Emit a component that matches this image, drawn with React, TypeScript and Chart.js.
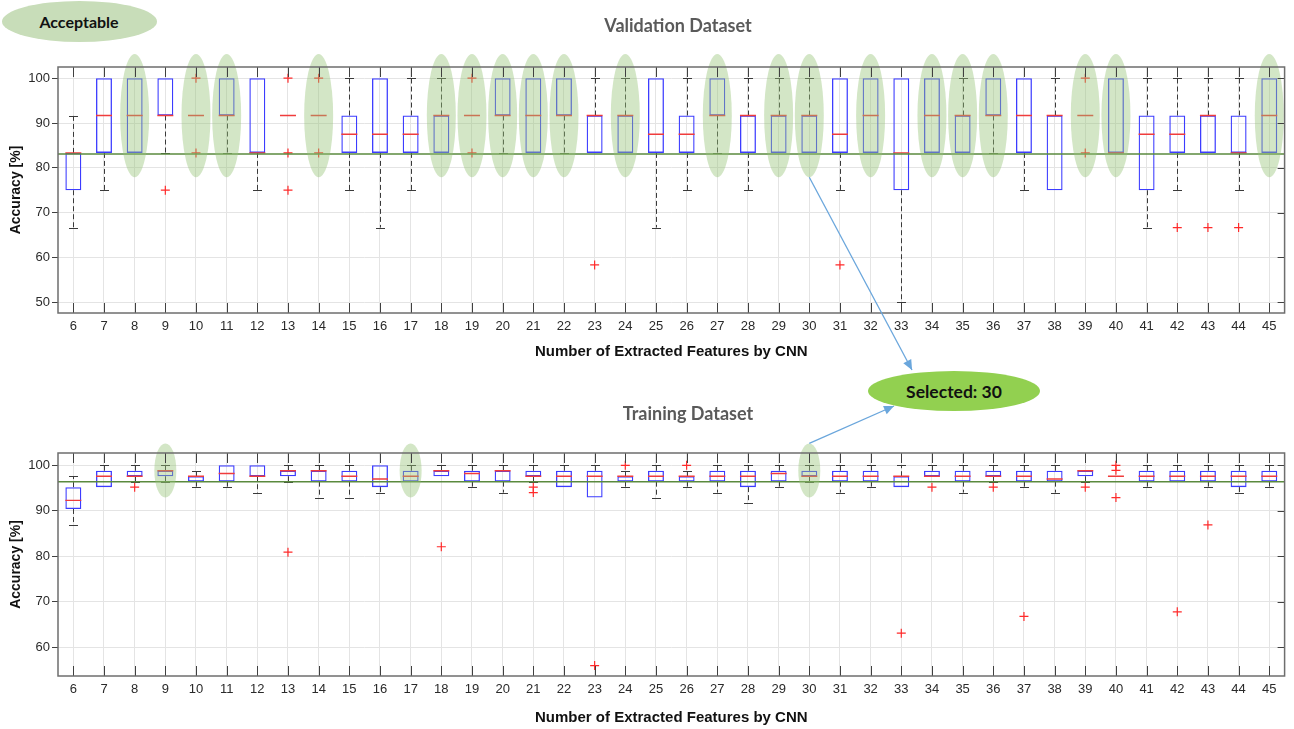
import React, { useEffect, useRef } from 'react';
import { Chart, registerables } from 'chart.js';

Chart.register(...registerables);

// ---------- categories ----------
const features = ['6','7','8','9','10','11','12','13','14','15','16','17','18','19','20','21','22','23','24','25','26','27','28','29','30','31','32','33','34','35','36','37','38','39','40','41','42','43','44','45'];

// ---------- validation dataset (top panel) ----------
const valQ1 =     [75, 83.33, 83.33, 91.67, 91.67, 91.67, 83.33, 91.67, 91.67, 83.33, 83.33, 83.33, 83.33, 91.67, 91.67, 83.33, 91.67, 83.33, 83.33, 83.33, 83.33, 91.67, 83.33, 83.33, 83.33, 83.33, 83.33, 75, 83.33, 83.33, 91.67, 83.33, 75, 91.67, 83.33, 75, 83.33, 83.33, 83.33, 83.33];
const valMedian = [83.33, 91.67, 91.67, 91.67, 91.67, 91.67, 83.33, 91.67, 91.67, 87.5, 87.5, 87.5, 91.67, 91.67, 91.67, 91.67, 91.67, 91.67, 91.67, 87.5, 87.5, 91.67, 91.67, 91.67, 91.67, 87.5, 91.67, 83.33, 91.67, 91.67, 91.67, 91.67, 91.67, 91.67, 83.33, 87.5, 87.5, 91.67, 83.33, 91.67];
const valQ3 =     [83.33, 100, 100, 100, 91.67, 100, 100, 91.67, 91.67, 91.67, 100, 91.67, 91.67, 91.67, 100, 100, 100, 91.67, 91.67, 100, 91.67, 100, 91.67, 91.67, 91.67, 100, 100, 100, 100, 91.67, 100, 100, 91.67, 91.67, 100, 91.67, 91.67, 91.67, 91.67, 100];
const valLow =    [66.67, 75, 83.33, 83.33, 91.67, 83.33, 75, 91.67, 91.67, 75, 66.67, 75, 83.33, 91.67, 83.33, 83.33, 83.33, 83.33, 83.33, 66.67, 75, 83.33, 75, 83.33, 83.33, 75, 83.33, 50, 83.33, 83.33, 83.33, 75, 75, 91.67, 83.33, 66.67, 75, 83.33, 75, 83.33];
const valHigh =   [91.67, 100, 100, 100, 91.67, 100, 100, 91.67, 91.67, 100, 100, 100, 100, 91.67, 100, 100, 100, 100, 100, 100, 100, 100, 100, 100, 100, 100, 100, 100, 100, 100, 100, 100, 100, 91.67, 100, 100, 100, 100, 100, 100];
const valOutliers = [
  { x: '9', y: 75 },
  { x: '10', y: 100 }, { x: '10', y: 83.33 },
  { x: '13', y: 100 }, { x: '13', y: 83.33 }, { x: '13', y: 75 },
  { x: '14', y: 100 }, { x: '14', y: 83.33 },
  { x: '19', y: 100 }, { x: '19', y: 83.33 },
  { x: '23', y: 58.33 },
  { x: '31', y: 58.33 },
  { x: '39', y: 100 }, { x: '39', y: 83.33 },
  { x: '42', y: 66.67 }, { x: '43', y: 66.67 }, { x: '44', y: 66.67 },
];
const valTicks = [50, 60, 70, 80, 90, 100];
const valAcceptable = ['8','10','11','14','18','19','20','21','22','24','27','29','30','32','34','35','36','39','40','45'];
const valThreshold = 83.1;

// ---------- training dataset (bottom panel) ----------
const trQ1 =     [90.4, 95.2, 97.6, 97.6, 96.4, 96.4, 97.6, 97.6, 96.4, 96.4, 95.2, 96.4, 97.6, 96.4, 96.4, 97.6, 95.2, 92.9, 96.4, 96.4, 96.4, 96.4, 95.2, 96.4, 97.6, 96.4, 96.4, 95.2, 97.6, 96.4, 97.6, 96.4, 96.4, 97.6, 97.6, 96.4, 96.4, 96.4, 95.2, 96.4];
const trMedian = [92.3, 97.6, 97.6, 98.8, 97.6, 98.2, 97.6, 98.8, 98.8, 97.6, 97.0, 97.6, 98.8, 98.2, 98.8, 97.6, 97.6, 97.6, 97.6, 97.6, 97.6, 97.6, 97.6, 98.2, 97.6, 97.6, 97.6, 97.6, 97.6, 97.6, 97.6, 97.6, 97.0, 98.8, 97.6, 97.6, 97.6, 97.6, 97.6, 97.6];
const trQ3 =     [95.2, 98.8, 98.8, 98.8, 97.6, 100, 100, 98.8, 98.8, 98.8, 100, 98.8, 98.8, 98.8, 98.8, 98.8, 98.8, 98.8, 97.6, 98.8, 97.6, 98.8, 98.8, 98.8, 98.8, 98.8, 98.8, 97.6, 98.8, 98.8, 98.8, 98.8, 98.8, 98.8, 97.6, 98.8, 98.8, 98.8, 98.8, 98.8];
const trLow =    [86.9, 95.2, 96.4, 96.4, 95.2, 95.2, 94.0, 96.4, 92.9, 92.9, 94.0, 96.4, 97.6, 95.2, 94.0, 96.4, 95.2, 92.9, 95.2, 92.9, 95.2, 94.0, 91.7, 95.2, 96.4, 94.0, 95.2, 95.2, 97.6, 94.0, 96.4, 95.2, 94.0, 96.4, 97.6, 95.2, 96.4, 95.2, 94.0, 95.2];
const trHigh =   [97.6, 100, 100, 100, 98.8, 100, 100, 100, 100, 100, 100, 100, 100, 100, 100, 100, 100, 100, 98.8, 100, 98.8, 100, 100, 100, 100, 100, 100, 100, 100, 100, 100, 100, 100, 98.8, 97.6, 100, 100, 100, 100, 100];
const trOutliers = [
  { x: '8', y: 95.2 },
  { x: '13', y: 80.9 },
  { x: '18', y: 82.1 },
  { x: '21', y: 95.2 }, { x: '21', y: 94.0 },
  { x: '23', y: 56.0 },
  { x: '24', y: 100 },
  { x: '26', y: 100 },
  { x: '33', y: 63.1 },
  { x: '34', y: 95.2 },
  { x: '36', y: 95.2 },
  { x: '37', y: 66.8 },
  { x: '39', y: 95.2 },
  { x: '40', y: 100 }, { x: '40', y: 98.9 }, { x: '40', y: 92.9 },
  { x: '42', y: 67.8 },
  { x: '43', y: 86.9 },
];
const trTicks = [60, 70, 80, 90, 100];
const trAcceptable = ['9', '17', '30'];
const trThreshold = 96.4;

const selectedFeature = '30';

// ---------- styling ----------
const TICK_FONT = "'Liberation Sans', Arial, sans-serif";
const BOX_BLUE = '#3c3cff';
const MED_RED = '#f03c3c';
const OUT_RED = '#ff2a2a';
const WHISKER = '#3a3a3a';
const AXIS_DARK = '#404040';
const GRID = '#e4e4e4';
const HILITE = 'rgba(150, 196, 120, 0.42)';
const THRESH = '#5a8a3e';

type Panel = {
  q1: number[]; med: number[]; q3: number[]; lo: number[]; hi: number[];
  outliers: { x: string; y: number }[];
  ticks: number[]; min: number; max: number;
  acceptable: string[]; threshold: number;
  ellLo: number; ellHi: number; ellRx: number;
  padTop: number; axisH: number; titlePadBottom: number;
};

function extrasPlugin(p: Panel) {
  return {
    id: 'boxExtras',
    beforeDatasetsDraw(chart: any) {
      const { ctx, scales } = chart;
      const x = scales.x, y = scales.y;
      ctx.save();
      ctx.strokeStyle = WHISKER;
      ctx.lineWidth = 1;
      features.forEach((_f, i) => {
        const px = Math.round(x.getPixelForValue(i)) + 0.5;
        const segs: [number, number][] = [];
        if (p.hi[i] > p.q3[i]) segs.push([p.q3[i], p.hi[i]]);
        if (p.lo[i] < p.q1[i]) segs.push([p.q1[i], p.lo[i]]);
        segs.forEach(([a, b]) => {
          ctx.setLineDash([5, 3]);
          ctx.beginPath();
          ctx.moveTo(px, y.getPixelForValue(a));
          ctx.lineTo(px, y.getPixelForValue(b));
          ctx.stroke();
          ctx.setLineDash([]);
          const cy = Math.round(y.getPixelForValue(b)) + 0.5;
          ctx.beginPath();
          ctx.moveTo(px - 4.5, cy);
          ctx.lineTo(px + 4.5, cy);
          ctx.stroke();
        });
      });
      ctx.restore();
    },
    afterDatasetsDraw(chart: any) {
      const { ctx, scales, chartArea } = chart;
      const x = scales.x, y = scales.y;
      ctx.save();
      const ty = y.getPixelForValue(p.threshold);
      ctx.strokeStyle = THRESH;
      ctx.lineWidth = 1.5;
      ctx.beginPath();
      ctx.moveTo(chartArea.left, ty);
      ctx.lineTo(chartArea.right, ty);
      ctx.stroke();
      ctx.fillStyle = HILITE;
      p.acceptable.forEach((f) => {
        const i = features.indexOf(f);
        const cx = x.getPixelForValue(i);
        const yTop = y.getPixelForValue(p.ellHi);
        const yBot = y.getPixelForValue(p.ellLo);
        ctx.beginPath();
        ctx.ellipse(cx, (yTop + yBot) / 2, p.ellRx, (yBot - yTop) / 2, 0, 0, Math.PI * 2);
        ctx.fill();
      });
      ctx.restore();
    },
    afterDraw(chart: any) {
      const { ctx, scales, chartArea } = chart;
      const x = scales.x, y = scales.y;
      ctx.save();
      ctx.strokeStyle = AXIS_DARK;
      ctx.lineWidth = 1;
      features.forEach((_f, i) => {
        const px = Math.round(x.getPixelForValue(i)) + 0.5;
        ctx.beginPath();
        ctx.moveTo(px, chartArea.bottom);
        ctx.lineTo(px, chartArea.bottom - 10);
        ctx.moveTo(px, chartArea.top);
        ctx.lineTo(px, chartArea.top + 10);
        ctx.stroke();
      });
      p.ticks.forEach((v) => {
        const py = Math.round(y.getPixelForValue(v)) + 0.5;
        ctx.beginPath();
        ctx.moveTo(chartArea.right, py);
        ctx.lineTo(chartArea.right - 7, py);
        ctx.stroke();
      });
      ctx.strokeStyle = '#6e6e6e';
      ctx.lineWidth = 1.5;
      ctx.strokeRect(chartArea.left, chartArea.top, chartArea.right - chartArea.left, chartArea.bottom - chartArea.top);
      ctx.restore();
    },
  };
}

function makeConfig(p: Panel): any {
  return {
    type: 'bar',
    data: {
      labels: features,
      datasets: [
        {
          type: 'bar',
          data: p.q1.map((v, i) => (p.q3[i] > v ? [v, p.q3[i]] : null)),
          backgroundColor: 'rgba(0,0,0,0)',
          borderColor: BOX_BLUE,
          borderWidth: 1.3,
          borderSkipped: false,
          barPercentage: 0.52,
          categoryPercentage: 1,
          order: 3,
        },
        {
          type: 'line',
          data: p.med,
          showLine: false,
          pointStyle: 'line',
          pointRadius: 8,
          pointBorderColor: MED_RED,
          pointBorderWidth: 1.4,
          borderColor: MED_RED,
          order: 2,
        },
        {
          type: 'line',
          data: p.outliers,
          showLine: false,
          pointStyle: 'cross',
          pointRadius: 4.5,
          pointBorderColor: OUT_RED,
          pointBorderWidth: 1.2,
          borderColor: OUT_RED,
          order: 1,
        },
      ],
    },
    options: {
      animation: false,
      responsive: false,
      maintainAspectRatio: false,
      events: [],
      layout: { padding: { top: p.padTop, right: 4, left: 0, bottom: 0 } },
      plugins: { legend: { display: false }, tooltip: { enabled: false } },
      scales: {
        x: {
          type: 'category',
          offset: true,
          grid: { offset: false, color: GRID, drawTicks: false },
          border: { display: false },
          ticks: {
            autoSkip: false, maxRotation: 0, minRotation: 0, padding: 6,
            color: '#2a2a2a', font: { family: TICK_FONT, size: 13 },
          },
          title: {
            display: true, text: 'Number of Extracted Features by CNN', color: '#111',
            font: { family: TICK_FONT, size: 15, weight: 'bold' },
            padding: { top: 0, bottom: p.titlePadBottom },
          },
          afterFit: (s: any) => { s.height = p.axisH; },
        },
        y: {
          type: 'linear',
          min: p.min,
          max: p.max,
          afterBuildTicks: (s: any) => { s.ticks = p.ticks.map((v) => ({ value: v })); },
          grid: { color: GRID, tickLength: 6, tickColor: AXIS_DARK, drawTicks: true },
          border: { display: false },
          ticks: {
            padding: 2, color: '#2a2a2a', font: { family: TICK_FONT, size: 13 },
          },
          title: {
            display: true, text: 'Accuracy [%]', color: '#111',
            font: { family: TICK_FONT, size: 14, weight: 'bold' },
            padding: { top: 8, bottom: 0 },
          },
          afterFit: (s: any) => { s.width = 58; },
        },
      },
    },
    plugins: [extrasPlugin(p)],
  };
}

const TOP_H = 370;
const BOT_H = 359;

const topPanel: Panel = {
  q1: valQ1, med: valMedian, q3: valQ3, lo: valLow, hi: valHigh, outliers: valOutliers,
  ticks: valTicks, min: 47.6, max: 102.5, acceptable: valAcceptable, threshold: valThreshold,
  ellLo: 77.9, ellHi: 105.4, ellRx: 14.5,
  padTop: 67, axisH: TOP_H - 313, titlePadBottom: 9,
};
const botPanel: Panel = {
  q1: trQ1, med: trMedian, q3: trQ3, lo: trLow, hi: trHigh, outliers: trOutliers,
  ticks: trTicks, min: 53.7, max: 102.7, acceptable: trAcceptable, threshold: trThreshold,
  ellLo: 92.9, ellHi: 104.8, ellRx: 11,
  padTop: 83, axisH: BOT_H - 306, titlePadBottom: 2,
};

function drawArrow(ctx: CanvasRenderingContext2D, x1: number, y1: number, x2: number, y2: number) {
  ctx.save();
  ctx.strokeStyle = '#6aa6dc';
  ctx.fillStyle = '#6aa6dc';
  ctx.lineWidth = 1.3;
  ctx.beginPath();
  ctx.moveTo(x1, y1);
  ctx.lineTo(x2, y2);
  ctx.stroke();
  const a = Math.atan2(y2 - y1, x2 - x1);
  const L = 10, W = 4.5;
  ctx.beginPath();
  ctx.moveTo(x2, y2);
  ctx.lineTo(x2 - L * Math.cos(a) + W * Math.sin(a), y2 - L * Math.sin(a) - W * Math.cos(a));
  ctx.lineTo(x2 - L * Math.cos(a) - W * Math.sin(a), y2 - L * Math.sin(a) + W * Math.cos(a));
  ctx.closePath();
  ctx.fill();
  ctx.restore();
}

export default function App() {
  const topRef = useRef<HTMLCanvasElement>(null);
  const botRef = useRef<HTMLCanvasElement>(null);
  const overRef = useRef<HTMLCanvasElement>(null);

  useEffect(() => {
    const c1 = new Chart(topRef.current as HTMLCanvasElement, makeConfig(topPanel));
    const c2 = new Chart(botRef.current as HTMLCanvasElement, makeConfig(botPanel));
    const ov = overRef.current as HTMLCanvasElement;
    const ctx = ov.getContext('2d') as CanvasRenderingContext2D;
    ctx.clearRect(0, 0, ov.width, ov.height);
    const si = features.indexOf(selectedFeature);
    const sx1 = (c1.scales as any).x.getPixelForValue(si);
    const sy1 = (c1.scales as any).y.getPixelForValue(topPanel.ellLo);
    const sx2 = (c2.scales as any).x.getPixelForValue(si);
    const sy2 = TOP_H + (c2.scales as any).y.getPixelForValue(botPanel.ellHi);
    drawArrow(ctx, sx1, sy1, 912, 370);
    drawArrow(ctx, sx2, sy2, 894, 406);
    return () => { c1.destroy(); c2.destroy(); };
  }, []);

  const label: React.CSSProperties = {
    position: 'absolute', fontFamily: "Lato, 'Open Sans', sans-serif", fontWeight: 700,
    whiteSpace: 'nowrap', transform: 'translate(-50%, -50%)',
  };

  return (
    <div style={{ position: 'fixed', left: 0, top: 0, width: 1294, height: 729, background: '#fff', overflow: 'hidden' }}>
      <canvas ref={topRef} width={1294} height={TOP_H} style={{ position: 'absolute', left: 0, top: 0, width: 1294, height: TOP_H }} />
      <canvas ref={botRef} width={1294} height={BOT_H} style={{ position: 'absolute', left: 0, top: TOP_H, width: 1294, height: BOT_H }} />
      <canvas ref={overRef} width={1294} height={729} style={{ position: 'absolute', left: 0, top: 0, width: 1294, height: 729, pointerEvents: 'none' }} />
      <div style={{ position: 'absolute', left: 2, top: 1, width: 155, height: 41, borderRadius: '50%', background: '#c8ddb9' }} />
      <div style={{ ...label, left: 79, top: 21, fontSize: 16, color: '#111' }}>Acceptable</div>
      <div style={{ ...label, left: 678, top: 25, fontSize: 18, color: '#5a5a5a' }}>Validation Dataset</div>
      <div style={{ ...label, left: 688, top: 413, fontSize: 18, color: '#5a5a5a' }}>Training Dataset</div>
      <div style={{ position: 'absolute', left: 868, top: 371, width: 172, height: 40, borderRadius: '50%', background: '#92d050' }} />
      <div style={{ ...label, left: 954, top: 391, fontSize: 17.5, color: '#111' }}>Selected: 30</div>
    </div>
  );
}
